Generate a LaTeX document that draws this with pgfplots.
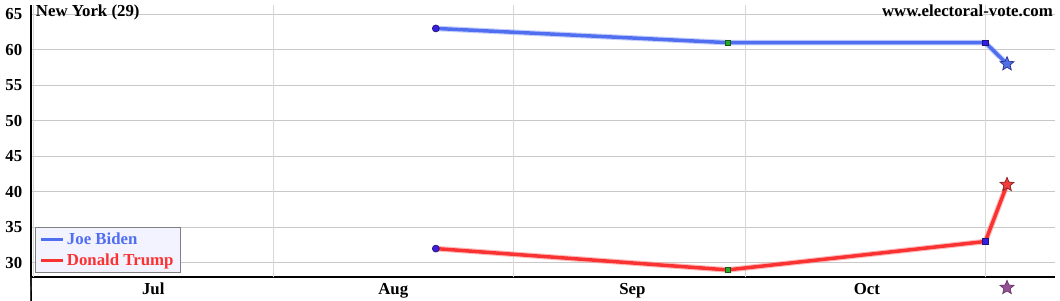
\documentclass[border=0pt]{standalone}
\usepackage{pgfplots}
\pgfplotsset{compat=1.18}
\usepackage{fontspec}
\setmainfont{Liberation Serif}
\usetikzlibrary{calc}
\definecolor{biden}{RGB}{80,110,240}
\definecolor{trump}{RGB}{250,50,50}
\definecolor{gridc}{RGB}{200,200,200}
\definecolor{vgridc}{RGB}{215,215,215}
\definecolor{legfill}{RGB}{243,243,255}
\pgfdeclareplotmark{fstar}{%
  \pgfpathmoveto{\pgfpointpolar{90}{\pgfplotmarksize}}%
  \pgfpathlineto{\pgfpointpolar{126}{0.45*\pgfplotmarksize}}%
  \pgfpathlineto{\pgfpointpolar{162}{\pgfplotmarksize}}%
  \pgfpathlineto{\pgfpointpolar{198}{0.45*\pgfplotmarksize}}%
  \pgfpathlineto{\pgfpointpolar{234}{\pgfplotmarksize}}%
  \pgfpathlineto{\pgfpointpolar{270}{0.45*\pgfplotmarksize}}%
  \pgfpathlineto{\pgfpointpolar{306}{\pgfplotmarksize}}%
  \pgfpathlineto{\pgfpointpolar{342}{0.45*\pgfplotmarksize}}%
  \pgfpathlineto{\pgfpointpolar{18}{\pgfplotmarksize}}%
  \pgfpathlineto{\pgfpointpolar{54}{0.45*\pgfplotmarksize}}%
  \pgfpathclose
  \pgfusepathqfillstroke}
\newcommand{\chf}{\fontsize{12.6pt}{14pt}\selectfont\bfseries}
\begin{document}
\begin{tikzpicture}
\begin{axis}[
  scale only axis, width=768pt, height=204pt,
  xmin=-0.3, xmax=132, ymin=28, ymax=66.3,
  clip=false,
  axis x line=bottom, axis y line=left,
  axis line style={black, line width=0.9pt, -},
  xtick={15.5,46.5,77.4,107.7},
  xticklabels={Jul,Aug,Sep,Oct},
  extra x ticks={0,31,62,92,123},
  extra x tick labels={},
  extra x tick style={grid=major, major grid style={vgridc, line width=0.5pt}, major tick length=0pt},
  ytick={30,35,40,45,50,55,60,65},
  ymajorgrids, major grid style={gridc, line width=0.6pt},
  major tick length=0pt,
  tick label style={font=\chf},
  /pgf/number format/assume math mode=true,
  yticklabel style={xshift=-3pt},
  xticklabel style={yshift=-1pt},
  legend style={at={(rel axis cs:0.004,0.015)}, anchor=south west, fill=legfill, draw=gray, line width=0.6pt,
    font=\chf, inner xsep=3pt, inner ysep=2pt, row sep=1.5pt},
  legend cell align=left,
  legend image code/.code={\draw[line width=2.6pt,#1] (0pt,0pt) -- (16pt,0pt);},
]
\addplot[biden!55, line width=4.2pt, opacity=0.6, forget plot] coordinates {(52,63) (89.7,61) (123,61) (125.8,58)};
\addplot[biden, line width=2.6pt, line join=round] coordinates {(52,63) (89.7,61) (123,61) (125.8,58)};
\addlegendentry{\textcolor{biden}{Joe Biden}}
\addplot[trump!55, line width=4.2pt, opacity=0.6, forget plot] coordinates {(52,32) (89.7,29) (123,33) (125.8,41)};
\addplot[trump, line width=2.6pt, line join=round] coordinates {(52,32) (89.7,29) (123,33) (125.8,41)};
\addlegendentry{\textcolor{trump}{Donald Trump}}
% markers
\addplot[only marks, mark=*, mark size=2.6pt, mark options={fill={rgb,255:red,60;green,30;blue,220}, draw={rgb,255:red,30;green,20;blue,120}, line width=0.5pt}, forget plot] coordinates {(52,63) (52,32)};
\addplot[only marks, mark=square*, mark size=2pt, mark options={fill={rgb,255:red,40;green,170;blue,40}, draw={rgb,255:red,20;green,90;blue,20}, line width=0.5pt}, forget plot] coordinates {(89.7,61) (89.7,29)};
\addplot[only marks, mark=square*, mark size=2pt, mark options={fill={rgb,255:red,50;green,30;blue,230}, draw={rgb,255:red,30;green,20;blue,120}, line width=0.5pt}, forget plot] coordinates {(123,61) (123,33)};
\addplot[only marks, mark=fstar, mark size=5.5pt, mark options={fill={rgb,255:red,80;green,110;blue,230}, draw={rgb,255:red,40;green,50;blue,140}, line width=0.5pt}, forget plot] coordinates {(125.8,58)};
\addplot[only marks, mark=fstar, mark size=5.5pt, mark options={fill={rgb,255:red,240;green,60;blue,60}, draw={rgb,255:red,130;green,30;blue,30}, line width=0.5pt}, forget plot] coordinates {(125.8,41)};
\addplot[only marks, mark=fstar, mark size=5.5pt, mark options={fill={rgb,255:red,150;green,80;blue,150}, draw={rgb,255:red,100;green,50;blue,100}, line width=0.5pt}, forget plot] coordinates {(125.8,26.5)};
\draw[black, line width=0.9pt] (rel axis cs:0,0) -- ($(rel axis cs:0,0)+(0,-14pt)$);
\draw[black, line width=0.9pt] (rel axis cs:0,0) -- ($(rel axis cs:0,0)+(-2.5pt,0)$);
\node[anchor=north west, inner sep=0pt, font=\chf] at ($(rel axis cs:0,1)+(3.5pt,0pt)$) {New York (29)};
\node[anchor=north east, inner sep=0pt, font=\chf] at ($(rel axis cs:1,1)+(-1.5pt,0pt)$) {www.electoral-vote.com};
\coordinate (bbsw) at ($(rel axis cs:0,0)+(-23.25pt,-17.25pt)$);
\coordinate (bbne) at ($(rel axis cs:1,1)+(3.75pt,3.75pt)$);
\end{axis}
\pgfresetboundingbox
\path[use as bounding box] (bbsw) rectangle (bbne);
\end{tikzpicture}
\end{document}
